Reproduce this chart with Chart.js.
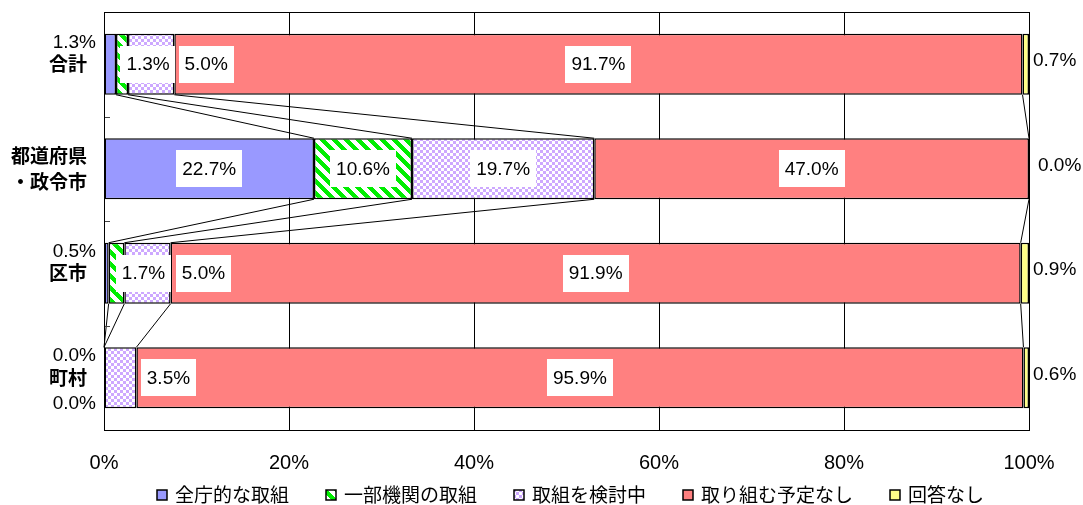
<!DOCTYPE html>
<html><head><meta charset="utf-8">
<script src="https://cdn.jsdelivr.net/npm/chart.js@4/dist/chart.umd.min.js"></script>
<style>html,body{margin:0;padding:0;background:#fff}#wrap{width:1083px;height:505px}</style>
</head><body><div id="wrap"><canvas id="c" width="1083" height="505"></canvas></div>
<script>
// ---- data ----
const categories = ['合計', ['都道府県', '・政令市'], '区市', '町村'];
const seriesNames = ['全庁的な取組', '一部機関の取組', '取組を検討中', '取り組む予定なし', '回答なし'];
const zenchou = [1.3, 22.7, 0.5, 0.0];
const ichibu = [1.3, 10.6, 1.7, 0.0];
const kentou = [5.0, 19.7, 5.0, 3.5];
const yoteiNashi = [91.7, 47.0, 91.9, 95.9];
const kaitouNashi = [0.7, 0.0, 0.9, 0.6];
const xTickValues = [0, 20, 40, 60, 80, 100];

// ---- label placement (style) ----
const labelNudge = {'1-0': 26, '2-0': 55, '1-2': 27, '2-2': 56, '2-3': 48};
const outsideLeft = {'0-0': 'top', '0-2': 'top', '0-3': 'top', '1-3': 'bottom'};

function stripePattern() {
  const c = document.createElement('canvas'); c.width = 12; c.height = 12;
  const g = c.getContext('2d');
  g.fillStyle = '#ffffff'; g.fillRect(0, 0, 12, 12);
  g.fillStyle = '#00ee00';
  for (let y = 0; y < 12; y++) for (let x = 0; x < 12; x++) {
    if ((((x - y) % 12) + 12) % 12 < 6) g.fillRect(x, y, 1, 1);
  }
  return g.createPattern(c, 'repeat');
}
function checkerPattern() {
  const c = document.createElement('canvas'); c.width = 6; c.height = 6;
  const g = c.getContext('2d');
  g.fillStyle = '#ffffff'; g.fillRect(0, 0, 6, 6);
  g.fillStyle = '#cda8ff';
  g.fillRect(0, 0, 3, 3); g.fillRect(3, 3, 3, 3);
  return g.createPattern(c, 'repeat');
}

const seriesData = [zenchou, ichibu, kentou, yoteiNashi, kaitouNashi];
const fills = ['#9999ff', stripePattern(), checkerPattern(), '#ff8080', '#ffff88'];

const framePlugin = {
  id: 'frame',
  afterDatasetsDraw(chart) {
    const {ctx, chartArea: a, scales: {x, y}} = chart;
    ctx.save();
    ctx.strokeStyle = '#000'; ctx.lineWidth = 1;
    const metas = seriesData.map((_, d) => chart.getDatasetMeta(d));
    for (let i = 0; i < categories.length - 1; i++) {
      let c1 = 0, c2 = 0;
      for (let k = 0; k < seriesData.length - 1; k++) {
        c1 += seriesData[k][i]; c2 += seriesData[k][i + 1];
        const e1 = metas[k].data[i], e2 = metas[k].data[i + 1];
        ctx.beginPath();
        ctx.moveTo(x.getPixelForValue(c1), e1.y + e1.height / 2);
        ctx.lineTo(x.getPixelForValue(c2), e2.y - e2.height / 2);
        ctx.stroke();
      }
    }
    ctx.strokeStyle = '#444';
    for (let i = 0; i < categories.length - 1; i++) {
      const yy = Math.round((y.getPixelForValue(i) + y.getPixelForValue(i + 1)) / 2) + 0.5;
      ctx.beginPath(); ctx.moveTo(a.left, yy); ctx.lineTo(a.left + 6, yy); ctx.stroke();
    }
    ctx.strokeStyle = '#000';
    ctx.strokeRect(Math.round(a.left) + 0.5, Math.round(a.top) + 0.5, Math.round(a.right - a.left), Math.round(a.bottom - a.top));

    ctx.font = '19px "Liberation Sans", Arial, sans-serif';
    ctx.fillStyle = '#000';
    seriesData.forEach((arr, d) => {
      arr.forEach((v, i) => {
        const el = metas[d].data[i];
        const t = v.toFixed(1) + '%';
        const top = el.y - el.height / 2, bot = el.y + el.height / 2;
        const key = d + '-' + i;
        if (d === 4) {
          ctx.textAlign = 'left'; ctx.textBaseline = 'middle';
          ctx.fillStyle = '#000';
          ctx.fillText(t, a.right + (v === 0 ? 9 : 4), el.y - 3);
        } else if (outsideLeft[key]) {
          ctx.textAlign = 'right'; ctx.textBaseline = 'middle';
          ctx.fillStyle = '#000';
          const yy = outsideLeft[key] === 'top' ? top + 9 : bot - 4;
          ctx.fillText(t, a.left - 8, yy);
        } else {
          const cx = (el.x + el.base) / 2 + (labelNudge[key] || 0);
          const w = ctx.measureText(t).width;
          const bw = w + 12, bh = 37;
          ctx.fillStyle = '#fff';
          ctx.fillRect(Math.round(cx - bw / 2), Math.round(el.y - bh / 2), Math.round(bw), bh);
          ctx.fillStyle = '#000';
          ctx.textAlign = 'center'; ctx.textBaseline = 'middle';
          ctx.fillText(t, cx, el.y + 1);
        }
      });
    });
    ctx.restore();
  },
  afterDraw(chart) {
    // legend
    const {ctx, chartArea: a} = chart;
    const ds = chart.data.datasets;
    const fontSize = 19, box = 10, gapBox = 8, pad = 37;
    ctx.save();
    ctx.font = fontSize + 'px "Noto Sans CJK JP", sans-serif';
    const widths = ds.map(d => box + gapBox + ctx.measureText(d.label).width);
    const total = widths.reduce((s, w) => s + w, 0) + pad * (ds.length - 1);
    let xx = (a.left + a.right) / 2 + 4 - total / 2;
    const cy = 495;
    ds.forEach((d, i) => {
      ctx.fillStyle = d.backgroundColor;
      ctx.fillRect(Math.round(xx), cy - 5, box, box);
      ctx.strokeStyle = '#000'; ctx.lineWidth = 1.5;
      ctx.strokeRect(Math.round(xx), cy - 5, box, box);
      ctx.fillStyle = '#000'; ctx.textAlign = 'left'; ctx.textBaseline = 'middle';
      ctx.fillText(d.label, xx + box + gapBox, cy);
      xx += widths[i] + pad;
    });
    ctx.restore();
  }
};

function draw() {
  new Chart(document.getElementById('c').getContext('2d'), {
    type: 'bar',
    data: {
      labels: categories,
      datasets: seriesData.map((arr, d) => ({
        label: seriesNames[d],
        data: arr,
        backgroundColor: fills[d],
        borderColor: '#000',
        borderWidth: 1.5,
        borderSkipped: false,
        barPercentage: 0.584,
        categoryPercentage: 1
      }))
    },
    options: {
      indexAxis: 'y',
      responsive: false,
      animation: false,
      layout: {padding: {left: 0, right: 54, top: 12, bottom: 30}},
      scales: {
        x: {
          stacked: true, min: 0, max: 100,
          afterBuildTicks(s) { s.ticks = xTickValues.map(v => ({value: v})); },
          ticks: {callback: v => v + '%', font: {family: '"Liberation Sans", Arial, sans-serif', size: 20}, color: '#000', padding: 21, maxRotation: 0},
          grid: {color: '#000', lineWidth: 1, drawTicks: false},
          border: {color: '#000', width: 1},
          afterFit(s) { s.height = 45; }
        },
        y: {
          stacked: true,
          ticks: {font: {family: '"Noto Sans CJK JP", sans-serif', size: 19, weight: 'bold', lineHeight: 1.32}, color: '#000', padding: 17},
          grid: {display: false, drawTicks: false},
          border: {color: '#000', width: 1},
          afterFit(s) { s.width = 104; s.paddingTop = 0; s.paddingBottom = 0; }
        }
      },
      plugins: {
        legend: {display: false},
        tooltip: {enabled: false}
      }
    },
    plugins: [framePlugin]
  });
}
Promise.all([
  document.fonts.load('bold 19px "Noto Sans CJK JP"', '合計'),
  document.fonts.load('19px "Noto Sans CJK JP"', '全庁'),
  document.fonts.load('20px "Liberation Sans"', '0%')
]).then(draw, draw);
</script>
</body></html>
